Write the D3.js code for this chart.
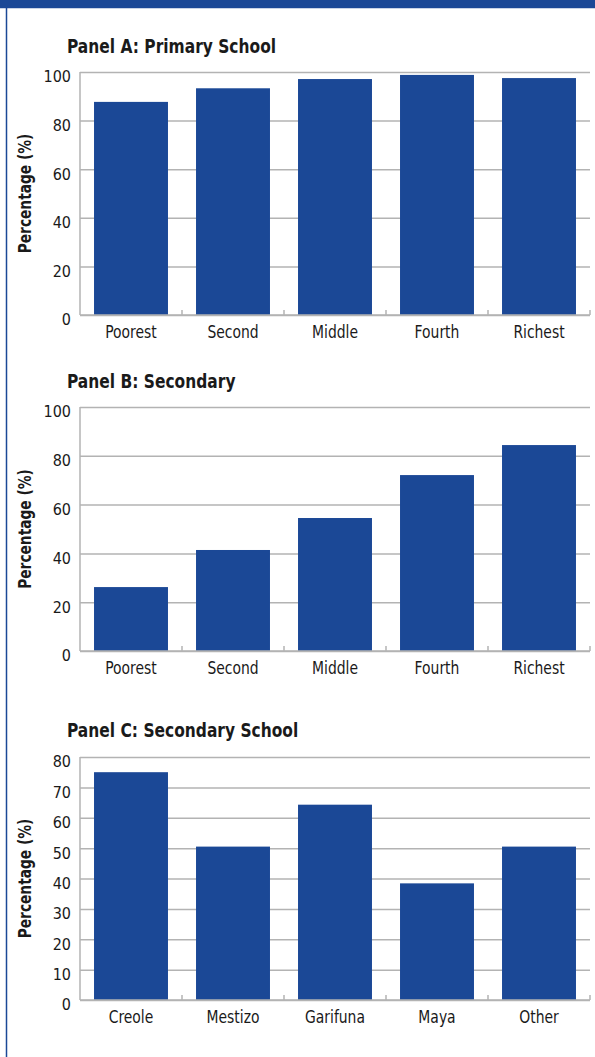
<!DOCTYPE html>
<html>
<head>
<meta charset="utf-8">
<script src="https://cdn.jsdelivr.net/npm/d3@7"></script>
<style>
  body { margin: 0; background: #fff; }
  svg text { font-family: "Liberation Sans Narrow", "DejaVu Sans Condensed", "Arial Narrow", sans-serif; fill: #1a1a1a; }
  .panelTitle { font-weight: bold; font-size: 20px; }
  .yTitle { font-weight: bold; font-size: 17px; }
  .tickLabel { font-size: 16px; }
  .catLabel { font-size: 18px; }
</style>
</head>
<body>
<div id="chart"></div>
<script>
var quintiles = ["Poorest", "Second", "Middle", "Fourth", "Richest"];
var primaryValues = [87.7, 93.3, 97.1, 98.8, 97.5];
var secondaryValues = [26.2, 41.4, 54.5, 72.1, 84.4];
var ethnicGroups = ["Creole", "Mestizo", "Garifuna", "Maya", "Other"];
var ethnicValues = [75.0, 50.5, 64.3, 38.4, 50.5];
var ticksHundred = [0, 20, 40, 60, 80, 100];
var ticksEighty = [0, 10, 20, 30, 40, 50, 60, 70, 80];

var width = 595, height = 1057;
var BLUE = "#1b4896";
var GRID = "#b3b3b3";
var plot_left = 80, plot_right = 590;
// the original face is a condensed grotesque, squeeze ours a bit to match
var SQUEEZE = 0.86;

var svg = d3.select("#chart").append("svg")
  .attr("width", width)
  .attr("height", height)

// frame: top band + left rule
svg.append("rect").attr("x", 0).attr("y", 0).attr("width", width).attr("height", 8).attr("fill", BLUE)
svg.append("line").attr("x1", 0).attr("x2", width).attr("y1", 8.5).attr("y2", 8.5)
  .attr("stroke", "#c9d3e6").attr("stroke-width", 1)
svg.append("line").attr("x1", 6.5).attr("x2", 6.5).attr("y1", 8).attr("y2", height)
  .attr("stroke", BLUE).attr("stroke-width", 1.5)

function drawPanel(opts) {
  var g = svg.append("g");

  var x = d3.scaleBand()
    .domain(opts.cats)
    .range([plot_left, plot_right])
    .paddingInner(0.275)
    .paddingOuter(0.1375);

  var y = d3.scaleLinear()
    .domain([0, opts.max])
    .range([opts.bottom, opts.top]);

  g.append("text")
    .attr("class", "panelTitle")
    .attr("transform", "translate(67," + opts.titleY + ") scale(" + SQUEEZE + ",1)")
    .text(opts.title)

  // gridlines + labels
  var yAxis = d3.axisLeft(y)
    .tickValues(opts.ticks)
    .tickSize(plot_left - plot_right)
    .tickPadding(9)
    .tickFormat(d3.format("d"));

  var ya = g.append("g")
    .attr("transform", "translate(" + plot_left + ",0)")
    .call(yAxis);
  ya.select(".domain").remove();
  ya.selectAll(".tick line")
    .attr("stroke", GRID)
    .attr("stroke-width", 1.5);
  ya.selectAll(".tick text")
    .attr("class", "tickLabel")
    .attr("font-family", null)
    .attr("font-size", null)
    .attr("fill", "#1a1a1a")
    .attr("dy", "0.62em");

  g.append("line")
    .attr("x1", plot_left).attr("x2", plot_left)
    .attr("y1", opts.top).attr("y2", opts.bottom)
    .attr("stroke", GRID).attr("stroke-width", 1.5)

  g.selectAll(".bar")
    .data(opts.values)
    .enter().append("rect")
      .attr("class", "bar")
      .attr("x", function(d, i){ return x(opts.cats[i]) })
      .attr("width", x.bandwidth())
      .attr("y", function(d){ return y(d) })
      .attr("height", function(d){ return y(0) - y(d) })
      .attr("fill", BLUE)

  // bottom axis with ticks at band edges pointing up
  g.append("line")
    .attr("x1", plot_left).attr("x2", plot_right)
    .attr("y1", opts.bottom).attr("y2", opts.bottom)
    .attr("stroke", GRID).attr("stroke-width", 1.5)

  var step = x.step();
  g.selectAll(".edgeTick")
    .data(opts.cats)
    .enter().append("line")
      .attr("class", "edgeTick")
      .attr("x1", function(d){ return x(d) - step * x.paddingInner() / 2 + step })
      .attr("x2", function(d){ return x(d) - step * x.paddingInner() / 2 + step })
      .attr("y1", opts.bottom)
      .attr("y2", opts.bottom - 5)
      .attr("stroke", GRID)
      .attr("stroke-width", 1.5)

  g.selectAll(".catLabel")
    .data(opts.cats)
    .enter().append("text")
      .attr("class", "catLabel")
      .attr("text-anchor", "middle")
      .attr("transform", function(d){
        return "translate(" + (x(d) + x.bandwidth() / 2) + "," + (opts.bottom + 23) + ") scale(" + SQUEEZE + ",1)"
      })
      .text(function(d){ return d })

  g.append("text")
    .attr("class", "yTitle")
    .attr("text-anchor", "middle")
    .attr("transform", "translate(31," + (opts.top + opts.bottom) / 2 + ") rotate(-90) scale(0.9,1)")
    .text("Percentage (%)")
}

drawPanel({title: "Panel A: Primary School", titleY: 53, top: 72, bottom: 315,
  max: 100, ticks: ticksHundred, cats: quintiles, values: primaryValues});
drawPanel({title: "Panel B: Secondary", titleY: 388, top: 407, bottom: 651,
  max: 100, ticks: ticksHundred, cats: quintiles, values: secondaryValues});
drawPanel({title: "Panel C: Secondary School", titleY: 737, top: 757, bottom: 1000,
  max: 80, ticks: ticksEighty, cats: ethnicGroups, values: ethnicValues});
</script>
</body>
</html>
